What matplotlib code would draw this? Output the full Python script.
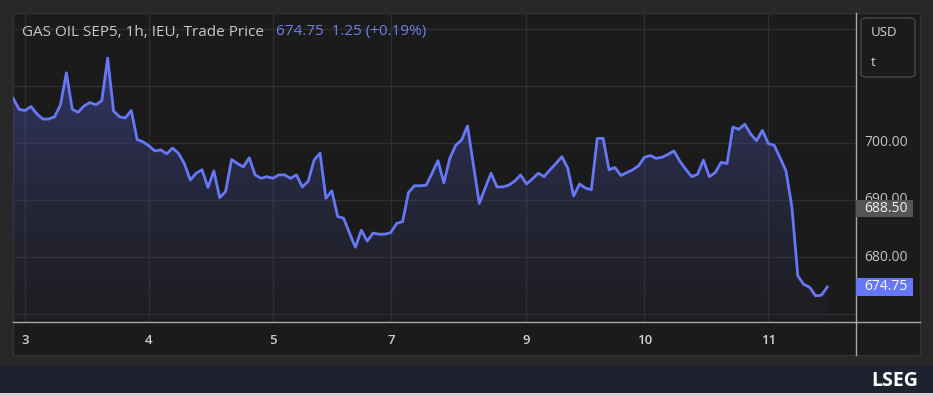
import matplotlib.pyplot as plt
import numpy as np
from matplotlib.colors import LinearSegmentedColormap
from matplotlib.patches import Rectangle, FancyBboxPatch
from matplotlib.lines import Line2D
from matplotlib.transforms import blended_transform_factory

plt.rcParams['font.family'] = ['Open Sans', 'DejaVu Sans']

# hourly trade prices (USD/t)
prices = [707.8, 705.9, 705.7, 706.4, 705.1, 704.2, 704.2, 704.6, 706.7, 712.3,
          705.9, 705.4, 706.5, 707.1, 706.7, 707.4, 714.9, 705.6, 704.6, 704.4,
          705.7, 700.6, 700.2, 699.5, 698.6, 698.8, 698.1, 699.1, 698.2, 696.4,
          693.5, 694.7, 695.3, 692.2, 695.1, 690.4, 691.5, 697.1, 696.4, 695.8,
          697.4, 694.4, 693.8, 694.1, 693.8, 694.4, 694.4, 693.8, 694.4, 692.3,
          693.3, 697.0, 698.2, 690.3, 691.6, 687.1, 686.8, 684.2, 681.7, 684.7,
          682.8, 684.2, 684.0, 684.0, 684.3, 685.9, 686.2, 691.3, 692.5, 692.5,
          692.6, 694.7, 696.9, 693.0, 697.3, 699.6, 700.5, 703.0, 696.2, 689.4,
          692.1, 694.7, 692.3, 692.3, 692.6, 693.3, 694.4, 692.8, 693.7, 694.7,
          694.1, 695.3, 696.4, 697.6, 695.6, 690.7, 692.8, 692.1, 691.8, 700.8,
          700.8, 695.3, 695.7, 694.3, 694.8, 695.3, 696.0, 697.5, 697.8, 697.3,
          697.5, 698.0, 698.6, 696.8, 695.4, 694.1, 694.5, 697.0, 694.1, 694.8,
          696.6, 696.4, 702.8, 702.4, 703.3, 701.6, 700.4, 702.2, 699.9, 699.6,
          697.4, 695.1, 688.8, 676.7, 675.2, 674.7, 673.2, 673.3, 674.75]

day_ticks = [2, 23, 44, 64, 87, 107, 128]
day_labels = ['3', '4', '5', '7', '9', '10', '11']
grid_prices = [720, 710, 700, 690, 680, 670]
label_prices = [700, 690, 680]

title = 'GAS OIL SEP5, 1h, IEU, Trade Price'
last_price = 674.75
prior_price = 688.50
change = 1.25
change_pct = 0.19

W, H = 933, 395
fig = plt.figure(figsize=(W / 100, H / 100), dpi=100, facecolor='#282828')


def fx(px):
    return px / W


def fy(py):
    return 1 - py / H


def rect(x0, y0, x1, y1, **kw):
    fig.patches.append(Rectangle((fx(x0), fy(y1)), fx(x1) - fx(x0), fy(y0) - fy(y1),
                                 transform=fig.transFigure, zorder=-5, **kw))


# panel + footer
rect(13, 13, 920, 355, facecolor='#1b1b1b', edgecolor='#333333', lw=1)
rect(0, 366, 933, 393, facecolor='#1e2230', edgecolor='none')
rect(0, 393, 933, 395, facecolor='#d6d6d6', edgecolor='none')

ax = fig.add_axes([fx(13), fy(322), fx(855) - fx(13), fy(13) - fy(322)])
ax.set_facecolor('none')
for s in ax.spines.values():
    s.set_visible(False)

x = np.arange(len(prices))
y = np.array(prices)
ax.set_xlim(-0.05, 142.7)
ax.set_ylim(668.6, 722.8)

# gridlines
for g in grid_prices:
    ax.axhline(g, color='#2f2f2f', lw=1, zorder=0)
for t in day_ticks:
    ax.axvline(t, color='#2f2f2f', lw=1, zorder=0)

# gradient fill under line
cmap = LinearSegmentedColormap.from_list(
    'fill', [(0.20, 0.20, 0.32, 0.12), (0.30, 0.34, 0.74, 0.5)])
grad = np.linspace(0, 1, 256).reshape(-1, 1)
img = ax.imshow(grad, cmap=cmap, aspect='auto', origin='lower',
                extent=[x[0], x[-1], 668.6, 715.5], zorder=1)
poly = ax.fill_between(x, y, 668.6, facecolor='none', edgecolor='none')
img.set_clip_path(poly.get_paths()[0], transform=ax.transData)

ax.plot(x, y, color='#6677f7', lw=2, solid_joinstyle='round', zorder=3)

ax.set_xticks(day_ticks, day_labels)
ax.tick_params(axis='x', length=0, pad=9, colors='#d0d0d0', labelsize=9.5)
for lbl in ax.get_xticklabels():
    lbl.set_fontweight('semibold')
ax.set_yticks([])

# axis separators
fig.lines.append(Line2D([fx(13), fx(920)], [fy(322), fy(322)], transform=fig.transFigure,
                        color='#a8a8a8', lw=1))
fig.lines.append(Line2D([fx(855.5), fx(855.5)], [fy(13), fy(355)], transform=fig.transFigure,
                        color='#a8a8a8', lw=1))

# price scale labels
tr = blended_transform_factory(fig.transFigure, ax.transData)
for p in label_prices:
    fig.text(fx(864), p, f'{p:.2f}', transform=tr, color='#c4c4c4', fontsize=10,
             va='center', ha='left')

fig.patches.append(Rectangle((fx(856), prior_price - 1.55), fx(913) - fx(856), 3.1,
                             transform=tr, facecolor='#555555', edgecolor='none', zorder=4))
fig.text(fx(864), prior_price, f'{prior_price:.2f}', transform=tr, color='#f2f2f2',
         fontsize=10, va='center', ha='left', zorder=5)
fig.patches.append(Rectangle((fx(856), last_price - 1.65), fx(913) - fx(856), 3.3,
                             transform=tr, facecolor='#6677fb', edgecolor='none', zorder=4))
fig.text(fx(864), last_price, f'{last_price:.2f}', transform=tr, color='white',
         fontsize=10, va='center', ha='left', zorder=5)

# unit box
fig.patches.append(FancyBboxPatch((fx(861), fy(77)), fx(915) - fx(861), fy(18) - fy(77),
                                  boxstyle='round,pad=0,rounding_size=0.006',
                                  transform=fig.transFigure, facecolor='none',
                                  edgecolor='#474747', lw=1))
fig.text(fx(871), fy(32), 'USD', color='#d4d4d4', fontsize=9.5, va='center')
fig.text(fx(871), fy(62), 't', color='#d4d4d4', fontsize=9.5, va='center')

# header
fig.text(fx(22), fy(32), title, color='#c8c8c8', fontsize=11, va='center')
fig.text(fx(276), fy(32), f'{last_price:.2f}  {change:.2f} (+{change_pct:.2f}%)',
         color='#6f7fe8', fontsize=11, va='center')

fig.text(fx(918), fy(381), 'LSEG', color='white', fontsize=14, fontweight='bold',
         va='center', ha='right')

fig.savefig('out.png', dpi=100, facecolor=fig.get_facecolor())
